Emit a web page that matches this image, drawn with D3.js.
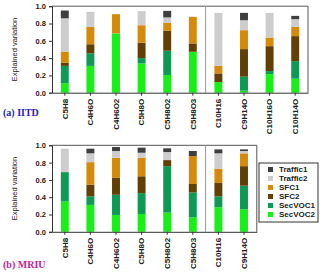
<!DOCTYPE html>
<html>
<head>
<meta charset="utf-8">
<script src="https://cdn.jsdelivr.net/npm/d3@7"></script>
<style>
  body { margin: 0; background: #fff; }
  svg { display: block; font-family: Arial, "Liberation Sans", sans-serif; }
</style>
</head>
<body>
<script>
// factors, stacked from bottom to top
const factors = ['SecVOC2', 'SecVOC1', 'SFC2', 'SFC1', 'Traffic2', 'Traffic1'];
const colors = ['#16f016', '#0c9a55', '#613f05', '#d68a0c', '#cdcdcd', '#3f3f3f'];
const legendOrder = ['Traffic1', 'Traffic2', 'SFC1', 'SFC2', 'SecVOC1', 'SecVOC2'];
const yTicks = [0, 0.2, 0.4, 0.6, 0.8, 1.0];

// (a) IITD
const speciesA = ['C5H8', 'C4H6O', 'C4H6O2', 'C5H8O', 'C5H8O2', 'C5H8O3', 'C10H16', 'C9H14O', 'C10H16O', 'C10H14O'];
const secVOC2A  = [0.11, 0.31, 0.685, 0.338, 0.204, 0.473, 0.123, 0.023, 0.215, 0.162];
const secVOC1A  = [0.20, 0.145, 0, 0.062, 0.281, 0, 0, 0.162, 0.035, 0.203];
const sfc2A     = [0.035, 0.105, 0, 0.177, 0.23, 0.097, 0.10, 0.319, 0.288, 0.289];
const sfc1A     = [0.13, 0.20, 0.223, 0.203, 0.095, 0.307, 0.087, 0.219, 0.10, 0.108];
const traffic2A = [0.385, 0.175, 0, 0.162, 0.06, 0, 0.613, 0.115, 0.285, 0.088];
const traffic1A = [0.09, 0, 0, 0, 0.076, 0, 0, 0.085, 0, 0.038];

// (b) MRIU
const speciesB = ['C5H8', 'C4H6O', 'C4H6O2', 'C5H8O', 'C5H8O2', 'C5H8O3', 'C10H16', 'C9H14O'];
const secVOC2B  = [0.35, 0.311, 0.195, 0.206, 0.222, 0.167, 0.284, 0.261];
const secVOC1B  = [0.34, 0.098, 0.233, 0.241, 0.537, 0.288, 0.125, 0.272];
const sfc2B     = [0, 0.136, 0.195, 0.195, 0.07, 0.098, 0.155, 0.226];
const sfc1B     = [0, 0.26, 0.233, 0.214, 0, 0.322, 0.164, 0.148];
const traffic2B = [0.27, 0.102, 0.078, 0.058, 0.093, 0, 0.179, 0.027];
const traffic1B = [0, 0.054, 0.046, 0.059, 0.043, 0.059, 0.046, 0.019];

const svg = d3.select('body').append('svg')
    .attr('width', 320)
    .attr('height', 272);

const color = d3.scaleOrdinal().domain(factors).range(colors);

function toRows(species, cols) {
    return species.map((s, i) => {
        const row = {name: s};
        factors.forEach((f, k) => row[f] = cols[k][i]);
        return row;
    });
}

function panel(species, cols, top, label, labelColor, labelY, splitAt) {
    const left = 52, bandW = 25.6, height = 86.5;
    const width = bandW * species.length;
    const g = svg.append('g').attr('transform', `translate(${left}, ${top})`);

    const x = d3.scaleBand().domain(species).range([0, width]).paddingInner(0.69).paddingOuter(0.345);
    const y = d3.scaleLinear().domain([0, 1]).range([height, 0]);

    // frame
    g.append('path')
        .attr('d', `M0,0H${width}V${height}`)
        .attr('fill', 'none').attr('stroke', '#555').attr('stroke-width', 1);
    // separator
    g.append('line')
        .attr('x1', bandW * splitAt).attr('x2', bandW * splitAt)
        .attr('y1', 0).attr('y2', height)
        .attr('stroke', '#999').attr('stroke-width', 1);

    const stacked = d3.stack().keys(factors)(toRows(species, cols));
    g.selectAll('g.layer')
        .data(stacked)
        .enter().append('g')
        .attr('fill', d => color(d.key))
        .selectAll('rect')
        .data(d => d)
        .enter().append('rect')
        .attr('x', d => x(d.data.name))
        .attr('width', x.bandwidth())
        .attr('y', d => y(d[1]))
        .attr('height', d => y(d[0]) - y(d[1]));

    const yAxis = g.append('g')
        .call(d3.axisLeft(y).tickValues(yTicks).tickFormat(d3.format('.1f')).tickSize(3));
    yAxis.selectAll('text').attr('font-size', 7.5).attr('font-weight', 'bold').attr('fill', '#222');
    yAxis.selectAll('line, path').attr('stroke', '#333');

    const xAxis = g.append('g')
        .attr('transform', `translate(0, ${height})`)
        .call(d3.axisBottom(x).tickSize(3).tickSizeOuter(0));
    xAxis.selectAll('text')
        .attr('font-size', 8).attr('font-weight', 'bold').attr('fill', '#222')
        .attr('transform', 'rotate(-90)')
        .attr('text-anchor', 'end')
        .attr('x', -6).attr('y', 0).attr('dy', '0.35em');
    xAxis.selectAll('line, path').attr('stroke', '#333');

    svg.append('text')
        .attr('transform', `translate(17, ${top + height / 2}) rotate(-90)`)
        .attr('text-anchor', 'middle')
        .attr('font-size', 7.5)
        .attr('fill', '#222')
        .text('Explained variation');

    svg.append('text')
        .attr('x', 3).attr('y', labelY)
        .attr('font-family', '"Liberation Serif", "DejaVu Serif", serif')
        .attr('font-size', 10)
        .attr('font-weight', 'bold')
        .attr('fill', labelColor)
        .text(label);
}

panel(speciesA, [secVOC2A, secVOC1A, sfc2A, sfc1A, traffic2A, traffic1A], 6.2, '(a) IITD', '#2424c8', 116, 6);
panel(speciesB, [secVOC2B, secVOC1B, sfc2B, sfc1B, traffic2B, traffic1B], 145.3, '(b) MRIU', '#c21c9e', 268, 6);

// legend
const legend = svg.append('g').attr('transform', 'translate(259, 163)');
legend.append('rect')
    .attr('width', 59).attr('height', 59)
    .attr('fill', '#fff').attr('stroke', '#333').attr('stroke-width', 1);
const items = legend.selectAll('g.item')
    .data(legendOrder)
    .enter().append('g')
    .attr('transform', (d, i) => `translate(0, ${6.5 + i * 9})`);
items.append('rect')
    .attr('x', 9).attr('y', -2.5).attr('width', 5).attr('height', 5)
    .attr('fill', d => color(d));
items.append('text')
    .attr('x', 20).attr('y', 0).attr('dy', '0.35em')
    .attr('font-size', 8).attr('font-weight', 'bold').attr('fill', '#222')
    .text(d => d);
</script>
</body>
</html>
